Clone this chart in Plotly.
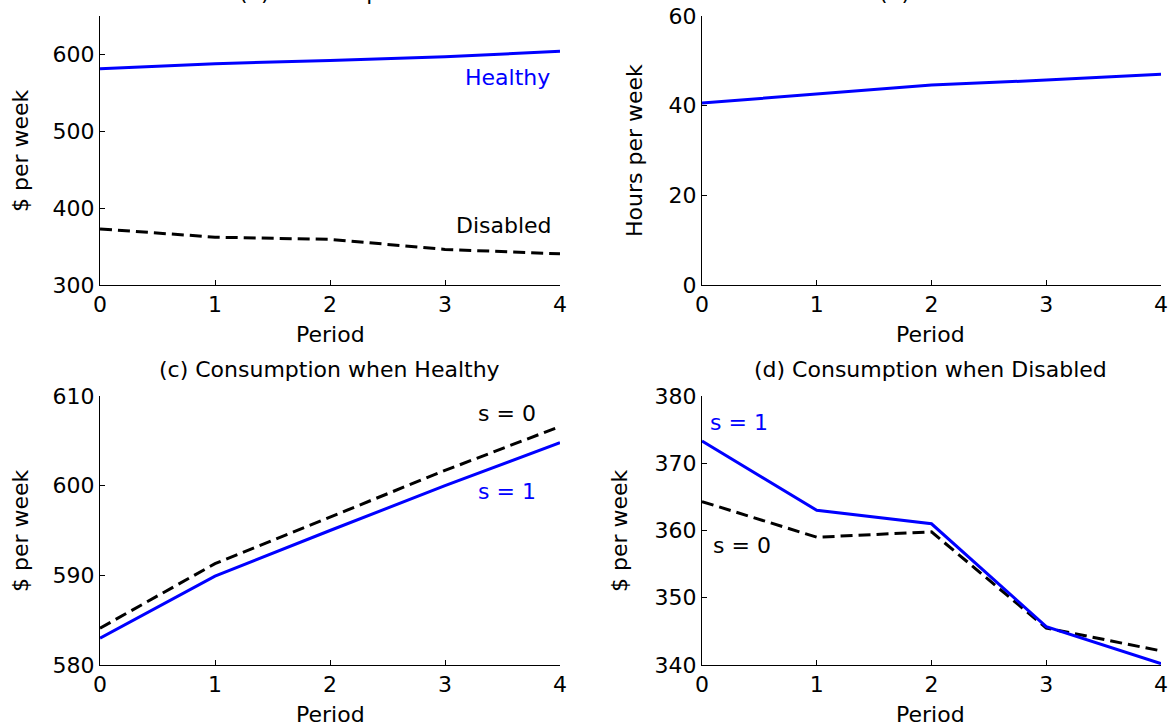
import plotly.graph_objects as go

# ---------------- data ----------------
periods = [0, 1, 2, 3, 4]
period_ticks = [0, 1, 2, 3, 4]

# (a) Consumption
cons_healthy = [581.5, 588.0, 592.0, 597.0, 604.0]
cons_disabled = [373.0, 362.2, 359.4, 346.3, 340.6]
ticks_a = [300, 400, 500, 600]

# (b) Hours
hours_healthy = [40.6, 42.6, 44.6, 45.7, 47.0]
ticks_b = [0, 20, 40, 60]

# (c) Consumption when Healthy
healthy_s0 = [584.1, 591.3, 596.5, 601.7, 606.6]
healthy_s1 = [583.0, 589.9, 595.0, 600.0, 604.8]
ticks_c = [580, 590, 600, 610]

# (d) Consumption when Disabled
disabled_s1 = [373.3, 363.0, 361.0, 345.7, 340.2]
disabled_s0 = [364.3, 359.0, 359.8, 345.5, 342.1]
ticks_d = [340, 350, 360, 370, 380]

# ---------------- layout helpers ----------------
W, H = 1170, 727
FONT = "DejaVu Sans"
FS = 22
BLUE = "#0000FF"


def px(x):
    return x / W


def py(y):
    return 1 - y / H


LEFT = (100, 560)
RIGHT = (702, 1161)
TOP = (16, 285)
BOTTOM = (396, 665)

fig = go.Figure()

solid = dict(color=BLUE, width=3)
dashed = dict(color="black", width=3, dash="12px,6px")

fig.add_trace(go.Scatter(x=periods, y=cons_healthy, mode="lines", line=solid, xaxis="x", yaxis="y"))
fig.add_trace(go.Scatter(x=periods, y=cons_disabled, mode="lines", line=dashed, xaxis="x", yaxis="y"))
fig.add_trace(go.Scatter(x=periods, y=hours_healthy, mode="lines", line=solid, xaxis="x2", yaxis="y2"))
fig.add_trace(go.Scatter(x=periods, y=healthy_s0, mode="lines", line=dashed, xaxis="x3", yaxis="y3"))
fig.add_trace(go.Scatter(x=periods, y=healthy_s1, mode="lines", line=solid, xaxis="x3", yaxis="y3"))
fig.add_trace(go.Scatter(x=periods, y=disabled_s0, mode="lines", line=dashed, xaxis="x4", yaxis="y4"))
fig.add_trace(go.Scatter(x=periods, y=disabled_s1, mode="lines", line=solid, xaxis="x4", yaxis="y4"))

axis_common = dict(
    showline=True, linecolor="black", linewidth=1, mirror=False,
    ticks="inside", ticklen=5, tickcolor="black", tickwidth=1,
    showgrid=False, zeroline=False,
    tickfont=dict(family=FONT, size=FS, color="black"),
)


def xax(dom, anchor):
    return dict(axis_common, domain=[px(dom[0]), px(dom[1])], range=[0, 4],
                tickvals=period_ticks, anchor=anchor)


def yax(dom, rng, tv, anchor):
    return dict(axis_common, domain=[py(dom[1]), py(dom[0])], range=rng,
                tickvals=tv, anchor=anchor)


annotations = []


def txt(text, x, y, color="black", xanchor="center", angle=0):
    annotations.append(dict(
        text=text, x=px(x), y=py(y), xref="paper", yref="paper",
        xanchor=xanchor, yanchor="middle", showarrow=False, textangle=angle,
        font=dict(family=FONT, size=FS, color=color),
    ))


# titles (top two are cut off by the page edge, as in the reference)
txt("(a) Consumption", 330, -8)
txt("(b) Hours", 931, -8)
txt("(c) Consumption when Healthy", 329, 369)
txt("(d) Consumption when Disabled", 930, 369)
# x titles
for cx in (330, 931):
    txt("Period", cx, 334)
    txt("Period", cx, 714)
# y titles
txt("$ per week", 20, 151, angle=-90)
txt("Hours per week", 634, 151, angle=-90)
txt("$ per week", 20, 531, angle=-90)
txt("$ per week", 619, 531, angle=-90)
# series labels
txt("Healthy", 552, 77, color=BLUE, xanchor="right")
txt("Disabled", 554, 225, xanchor="right")
txt("s = 0", 538, 413, xanchor="right")
txt("s = 1", 538, 491, color=BLUE, xanchor="right")
txt("s = 1", 708, 422, color=BLUE, xanchor="left")
txt("s = 0", 711, 545, xanchor="left")

fig.update_layout(
    width=W, height=H,
    margin=dict(l=0, r=0, t=0, b=0, autoexpand=False),
    paper_bgcolor="white", plot_bgcolor="white",
    showlegend=False,
    font=dict(family=FONT, size=FS, color="black"),
    xaxis=xax(LEFT, "y"),
    yaxis=yax(TOP, [300, 650], ticks_a, "x"),
    xaxis2=xax(RIGHT, "y2"),
    yaxis2=yax(TOP, [0, 60], ticks_b, "x2"),
    xaxis3=xax(LEFT, "y3"),
    yaxis3=yax(BOTTOM, [580, 610], ticks_c, "x3"),
    xaxis4=xax(RIGHT, "y4"),
    yaxis4=yax(BOTTOM, [340, 380], ticks_d, "x4"),
    annotations=annotations,
)

fig.write_html("out.html")
